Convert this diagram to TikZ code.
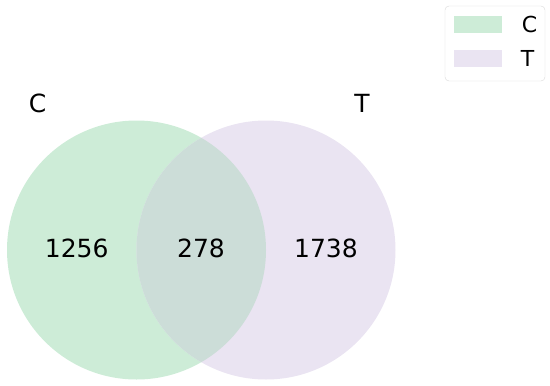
\documentclass[tikz,border=0pt]{standalone}
\usepackage{fontspec}
\setmainfont{DejaVu Sans}
\usetikzlibrary{positioning}
\definecolor{setC}{RGB}{205,236,215}
\definecolor{setT}{RGB}{234,228,242}
\definecolor{setCT}{RGB}{204,221,216}
\begin{document}
\begin{tikzpicture}[
    x=1pt, y=-1pt,
    every node/.style={font=\fontsize{25}{30}\selectfont, inner sep=0pt},
    legpatch/.style={minimum width=48pt, minimum height=17pt},
    legtext/.style={font=\fontsize{22}{26}\selectfont},
  ]
    \useasboundingbox (0,0) rectangle (550,386);
    %% Circles (C left, T right)
    \fill[setC] (136.5,250) circle[radius=129.5pt];
    \fill[setT] (266,250) circle[radius=129.5pt];
    %% overlap
    \begin{scope}
      \clip (136.5,250) circle[radius=129.5pt];
      \fill[setCT] (266,250) circle[radius=129.5pt];
    \end{scope}
    %% set labels
    \node (labC) at (37.5,103) {C};
    \node (labT) at (362,103) {T};
    %% subset counts
    \node (onlyC) at (76.7,248.5) {1256};
    \node (both)  at (201,248.5) {278};
    \node (onlyT) at (326,248.5) {1738};
    %% Legend
    \draw[black!15, fill=white, rounded corners=4pt] (445,6) rectangle (545,81);
    \node[legpatch, fill=setC] (patchC) at (478,24.5) {};
    \node[legpatch, fill=setT] (patchT) at (478,58.5) {};
    \node[legtext, right=19.5pt of patchC] (legC) {C};
    \node[legtext, right=18.5pt of patchT] (legT) {T};
  \end{tikzpicture}
\end{document}
